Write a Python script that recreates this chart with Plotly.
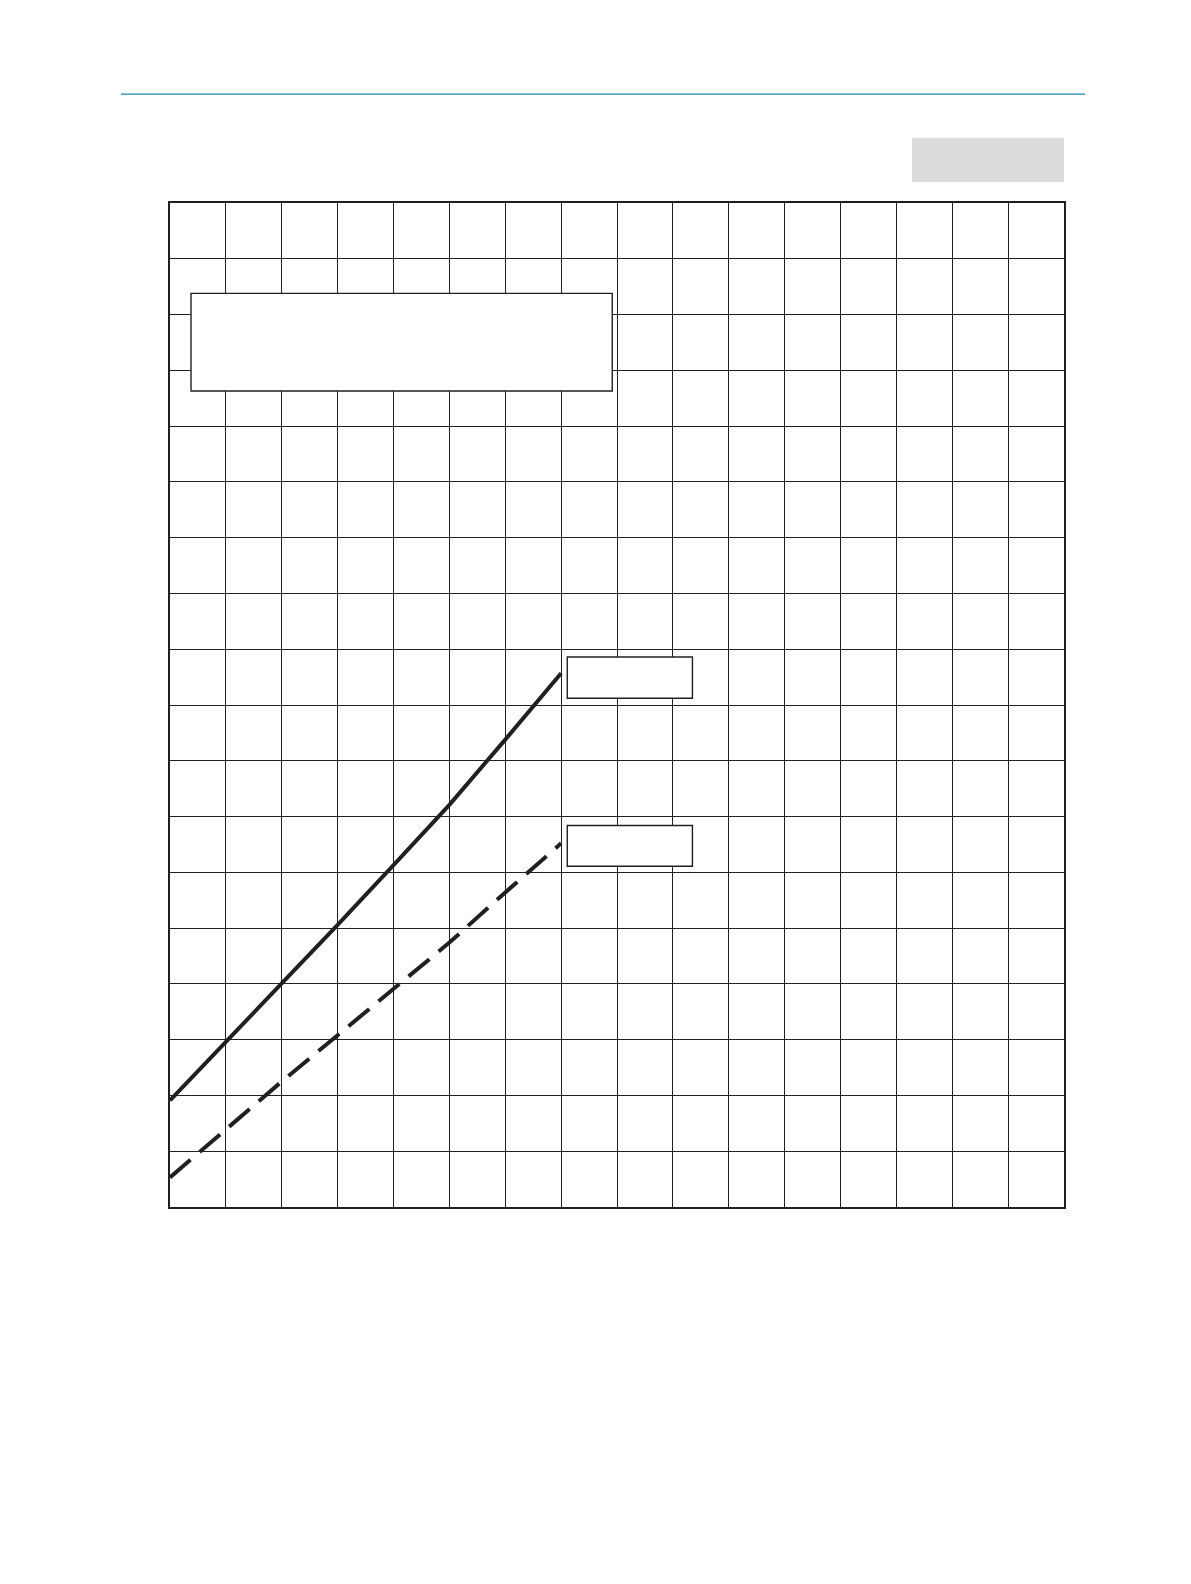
import plotly.graph_objects as go

# grid units (16 x 18 cells, no labels printed)
x_vals = [0, 1, 2, 3, 4, 5, 6, 7]
solid_vals = [1.91, 2.96, 4.00, 5.06, 6.13, 7.21, 8.38, 9.57]
dashed_vals = [0.53, 1.39, 2.25, 3.08, 3.91, 4.74, 5.64, 6.52]

INK = "#231f20"

fig = go.Figure()
fig.add_trace(go.Scatter(x=x_vals, y=solid_vals, mode="lines",
                         line=dict(color=INK, width=4), name="solid"))
fig.add_trace(go.Scatter(x=x_vals, y=dashed_vals, mode="lines",
                         line=dict(color=INK, width=4, dash="27px,12px"), name="dashed"))

# legend box and the two (empty) label boxes, white so they hide the grid
boxes = [(0.376, 14.63, 7.915, 16.38), (7.11, 9.12, 9.35, 9.86), (7.11, 6.11, 9.35, 6.84)]
for x0, y0, x1, y1 in boxes:
    fig.add_shape(type="rect", xref="x", yref="y", x0=x0, y0=y0, x1=x1, y1=y1,
                  line=dict(color=INK, width=1.4), fillcolor="white", layer="above")

# page decorations: teal rule and grey tab
fig.add_shape(type="line", xref="paper", yref="paper", x0=-0.0548, x1=1.0235, y0=1.1085, y1=1.1085,
              line=dict(color="#1a86a8", width=1.3))
fig.add_shape(type="rect", xref="paper", yref="paper", x0=0.830, x1=1.0, y0=1.0208, y1=1.065,
              line=dict(width=0), fillcolor="#dcdcdc")

axis = dict(showgrid=True, gridcolor=INK, gridwidth=1.3, dtick=1, showticklabels=False,
            ticks="", zeroline=False, showline=True, linecolor=INK, linewidth=1.6, mirror=True)
fig.update_xaxes(range=[0, 16], **axis)
fig.update_yaxes(range=[0, 18], **axis)

fig.update_layout(width=1191, height=1584, margin=dict(l=162, r=135, t=195, b=385),
                  plot_bgcolor="white", paper_bgcolor="white", showlegend=False)
fig.write_html("out.html")
